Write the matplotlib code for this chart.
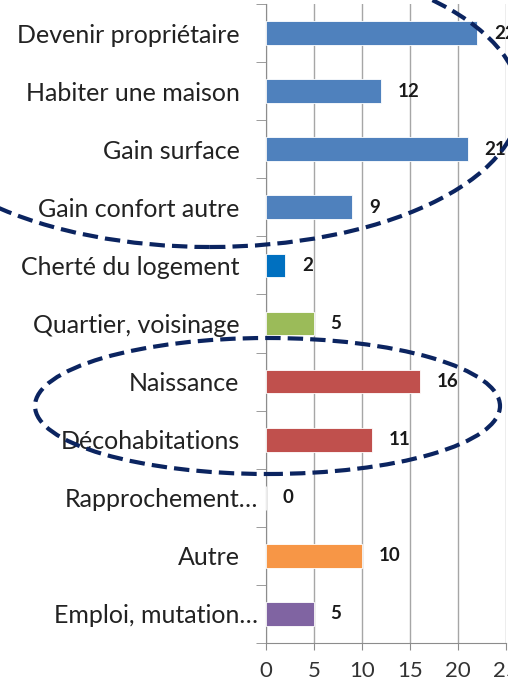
import numpy as np
import matplotlib
matplotlib.use("Agg")
import matplotlib.pyplot as plt
from matplotlib.patches import Ellipse

# data, top to bottom
categories = ["Devenir propriétaire", "Habiter une maison", "Gain surface",
              "Gain confort autre", "Cherté du logement", "Quartier, voisinage",
              "Naissance", "Décohabitations", "Rapprochement…", "Autre",
              "Emploi, mutation…"]
values = [22, 12, 21, 9, 2, 5, 16, 11, 0, 10, 5]
colors = ["#4F81BD", "#4F81BD", "#4F81BD", "#4F81BD", "#0070C0", "#9BBB59",
          "#C0504D", "#C0504D", "#C0504D", "#F79646", "#8064A2"]
xticks = [0, 5, 10, 15, 20, 25]

plt.rcParams['font.family'] = ['Lato', 'DejaVu Sans']

W, H = 508, 680
fig = plt.figure(figsize=(W / 100, H / 100), dpi=100)
ax = fig.add_axes([266 / W, 1 - 643 / H, (506 - 266) / W, (643 - 4) / H])

y = np.arange(len(categories))
ax.barh(y, values, height=0.41, color=colors, edgecolor="white", linewidth=0.6, zorder=3)
ax.set_ylim(len(categories) - 0.5, -0.5)
ax.set_xlim(0, 25)

# value labels
for yi, v in zip(y, values):
    ax.annotate(str(v), (v, yi), xytext=(12, 0), textcoords="offset points",
                ha="left", va="center", fontsize=13.5, fontweight="bold", color="#1a1a1a")

# axes style
grey = "#8C8C8C"
for s in ["top", "right"]:
    ax.spines[s].set_visible(False)
for s in ["left", "bottom"]:
    ax.spines[s].set_color(grey)
ax.set_xticks(xticks)
ax.xaxis.grid(True, color="#A6A6A6", linewidth=1, zorder=0)
ax.set_axisbelow(True)
ax.tick_params(axis="x", length=5, color=grey, labelsize=16, pad=8, labelcolor="#333333")

ax.set_yticks(y)
ax.set_yticklabels(categories)
ax.set_yticks(np.arange(-0.5, len(categories)), minor=True)
ax.tick_params(axis="y", which="major", length=0, pad=19, labelsize=18, labelcolor="#222222")
ax.tick_params(axis="y", which="minor", length=7, color=grey)
ticks = ax.yaxis.get_major_ticks()
for i in (8, 10):
    ticks[i].set_pad(6)

# dashed ellipses
navy = "#0B2460"
e1 = Ellipse((210 / W, 1 - 101.5 / H), 620 / W, 291 / H, transform=fig.transFigure,
             fill=False, edgecolor=navy, linewidth=3, linestyle=(0, (3.7, 1.7)), zorder=10)
e2 = Ellipse((267.5 / W, 1 - 406 / H), 465 / W, 136 / H, transform=fig.transFigure,
             fill=False, edgecolor=navy, linewidth=3, linestyle=(0, (3.7, 1.7)), zorder=10)
fig.add_artist(e1)
fig.add_artist(e2)

fig.savefig("out.png", dpi=100)
